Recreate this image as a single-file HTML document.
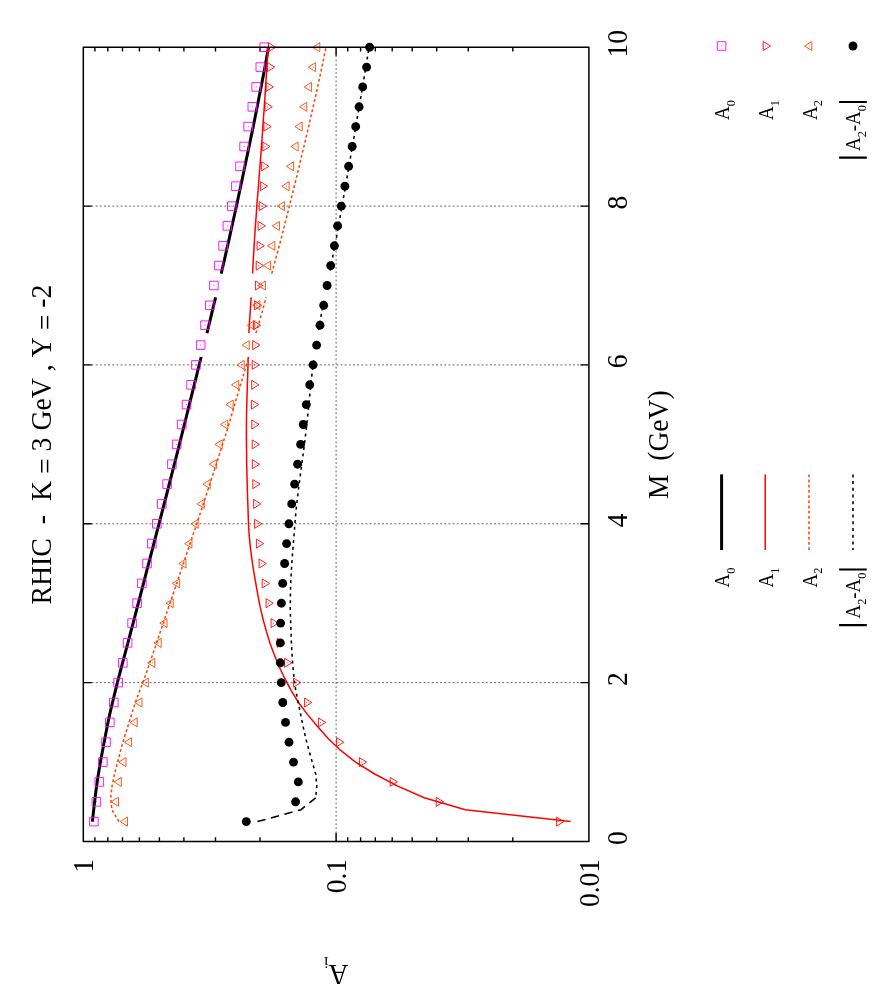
<!DOCTYPE html>
<html><head><meta charset="utf-8"><title>plot</title>
<style>
html,body{margin:0;padding:0;background:#fff;}
body{width:875px;height:1000px;overflow:hidden;}
svg{display:block;will-change:transform;}
text{font-family:"Liberation Serif",serif;fill:#000;white-space:pre;font-kerning:none;}
</style></head><body>
<svg width="875" height="1000" viewBox="0 0 875 1000">
<rect width="875" height="1000" fill="#fff"/>
<path d="M83.3,682.6 H588.9 M83.3,523.8 H588.9 M83.3,364.9 H588.9 M83.3,206.1 H588.9 M336.1,47.2 V841.5" stroke="#1a1a1a" stroke-width="0.7" stroke-dasharray="1.8,2.35" fill="none"/>
<path d="M83.3,682.6 h8.5 M588.9,682.6 h-8.5 M83.3,523.8 h8.5 M588.9,523.8 h-8.5 M83.3,364.9 h8.5 M588.9,364.9 h-8.5 M83.3,206.1 h8.5 M588.9,206.1 h-8.5 M260.0,841.5 v-4.2 M260.0,47.2 v4.2 M215.5,841.5 v-4.2 M215.5,47.2 v4.2 M183.9,841.5 v-4.2 M183.9,47.2 v4.2 M159.4,841.5 v-4.2 M159.4,47.2 v4.2 M139.4,841.5 v-4.2 M139.4,47.2 v4.2 M122.5,841.5 v-4.2 M122.5,47.2 v4.2 M107.8,841.5 v-4.2 M107.8,47.2 v4.2 M94.9,841.5 v-4.2 M94.9,47.2 v4.2 M512.8,841.5 v-4.2 M512.8,47.2 v4.2 M468.3,841.5 v-4.2 M468.3,47.2 v4.2 M436.7,841.5 v-4.2 M436.7,47.2 v4.2 M412.2,841.5 v-4.2 M412.2,47.2 v4.2 M392.2,841.5 v-4.2 M392.2,47.2 v4.2 M375.3,841.5 v-4.2 M375.3,47.2 v4.2 M360.6,841.5 v-4.2 M360.6,47.2 v4.2 M347.7,841.5 v-4.2 M347.7,47.2 v4.2 M336.1,841.5 v-8.5 M336.1,47.2 v8.5" stroke="#000" stroke-width="1.4" fill="none"/>
<path d="M92.4,821.6 L93.7,809.7 L95.1,797.8 L96.6,785.9 L98.4,774.0 L100.4,762.1 L102.6,750.2 L104.9,738.2 L107.2,726.3 L109.7,714.4 L112.5,702.5 L115.4,690.6 L118.4,678.7 L121.5,666.8 L124.7,654.8 L127.9,642.9 L131.0,631.0 L134.2,619.1 L137.3,607.2 L140.4,595.3 L143.5,583.4 L146.6,571.4 L149.7,559.5 L152.8,547.6 L155.9,535.7 L159.0,523.8 L162.1,511.9 L165.2,500.0 L168.3,488.0 L171.3,476.1 L174.4,464.2 L177.4,452.3 L180.4,440.4 L183.4,428.5 L186.4,416.5 L189.3,404.6 L192.3,392.7 L195.3,380.8 L198.2,368.9 L201.2,357.0 M207.0,333.1 L209.9,321.2 L212.7,309.3 L215.6,297.4 M221.2,273.6 L224.0,261.7 L226.7,249.7 L229.4,237.8 L232.0,225.9 L234.7,214.0 L237.3,202.1 L239.8,190.2 L242.4,178.3 L244.9,166.3 L247.4,154.4 L249.9,142.5 L252.4,130.6 L254.8,118.7 L257.2,106.8 L259.5,94.9 L261.9,82.9 L264.2,71.0 L266.4,59.1 L268.5,47.2" stroke="#000" stroke-width="3.0" fill="none"/>
<path d="M570.6,821.6 L465.4,809.7 L424.3,797.8 L397.2,785.9 L374.7,774.0 L355.5,762.1 L340.4,750.2 L327.9,738.2 L317.3,726.3 L307.4,714.4 L298.5,702.5 L291.2,690.6 L284.9,678.7 L279.2,666.8 L274.3,654.8 L269.9,642.9 L266.3,631.0 L263.0,619.1 L260.2,607.2 L257.9,595.3 L255.8,583.4 L253.7,571.4 L251.9,559.5 L250.4,547.6 L249.2,535.7 L248.5,523.8 L248.1,511.9 L247.7,500.0 L247.3,488.0 L247.0,476.1 L246.7,464.2 L246.6,452.3 L246.4,440.4 L246.4,428.5 L246.5,416.5 L246.8,404.6 L247.1,392.7 L247.5,380.8 L247.9,368.9 L248.3,357.0 M248.9,333.1 L249.5,321.2 L250.4,309.3 L251.2,297.4 M252.6,273.6 L253.2,261.7 L253.9,249.7 L254.6,237.8 L255.4,225.9 L256.3,214.0 L257.1,202.1 L258.1,190.2 L259.0,178.3 L259.9,166.3 L260.9,154.4 L261.8,142.5 L262.6,130.6 L263.4,118.7 L264.3,106.8 L265.1,94.9 L265.8,82.9 L266.6,71.0 L267.4,59.1 L268.1,47.2" stroke="#ff0000" stroke-width="1.5" fill="none"/>
<path d="M119.0,821.6 L111.9,809.7 L110.6,797.8 L112.1,785.9 L114.5,774.0 L117.7,762.1 L120.7,750.2 L124.1,738.2 L127.9,726.3 L131.6,714.4 L135.3,702.5 L139.8,690.6 L144.3,678.7 L148.5,666.8 L152.6,654.8 L156.6,642.9 L160.6,631.0 L164.6,619.1 L168.6,607.2 L172.6,595.3 L176.7,583.4 L180.7,571.4 L184.7,559.5 L188.7,547.6 L192.7,535.7 L196.7,523.8 L200.7,511.9 L204.6,500.0 L208.5,488.0 L212.4,476.1 L216.3,464.2 L220.1,452.3 L223.8,440.4 L227.6,428.5 L231.2,416.5 L234.7,404.6 L238.2,392.7 L241.7,380.8 L245.2,368.9 L248.8,357.0 M256.0,333.1 L259.5,321.2 L262.9,309.3 L266.1,297.4 M271.8,273.6 L274.9,261.7 L278.2,249.7 L281.4,237.8 L284.4,225.9 L287.4,214.0 L290.4,202.1 L293.3,190.2 L296.3,178.3 L299.2,166.3 L302.0,154.4 L304.9,142.5 L307.7,130.6 L310.4,118.7 L313.2,106.8 L315.9,94.9 L318.5,82.9 L321.1,71.0 L323.6,59.1 L326.1,47.2" stroke="#ff4500" stroke-width="1.55" stroke-dasharray="2.8,2.4" fill="none"/>
<path d="M257.4,821.6 L301.0,809.7 L315.7,797.8" stroke="#000" stroke-width="1.55" stroke-dasharray="8.4,5.6" fill="none"/>
<path d="M315.7,797.8 L316.8,785.9 L315.7,774.0 L312.2,762.1 L308.9,750.2 L305.7,738.2 L303.1,726.3 L300.6,714.4 L298.2,702.5 L295.8,690.6 L294.1,678.7 L292.9,666.8 L292.1,654.8 L291.4,642.9 L291.0,631.0 L290.5,619.1 L290.3,607.2 L290.4,595.3 L290.7,583.4 L291.3,571.4 L292.1,559.5 L293.0,547.6 L294.0,535.7 L294.9,523.8 L295.9,511.9 L297.2,500.0 L298.6,488.0 L300.2,476.1 L301.8,464.2 L303.4,452.3 L304.9,440.4 L306.3,428.5 L307.6,416.5 L308.8,404.6 L310.0,392.7 L311.2,380.8 L312.6,368.9 L314.2,357.0 M318.0,333.1 L320.1,321.2 L322.3,309.3 L324.7,297.4 M329.4,273.6 L331.8,261.7 L334.1,249.7 L336.4,237.8 L338.5,225.9 L340.6,214.0 L342.7,202.1 L344.8,190.2 L346.9,178.3 L348.9,166.3 L351.0,154.4 L353.1,142.5 L355.1,130.6 L357.1,118.7 L359.2,106.8 L361.2,94.9 L363.2,82.9 L365.2,71.0 L367.1,59.1 L369.1,47.2" stroke="#000" stroke-width="1.55" stroke-dasharray="3,3.7" stroke-dashoffset="-3" fill="none"/>
<rect x="89.6" y="817.3" width="8.6" height="8.6" fill="none" stroke="#ff00ff" stroke-width="0.9" stroke-linejoin="round"/><rect x="93.4" y="821.1" width="1" height="1" fill="#ff00ff" opacity="0.8"/>
<rect x="92.1" y="797.5" width="8.6" height="8.6" fill="none" stroke="#ff00ff" stroke-width="0.9" stroke-linejoin="round"/><rect x="95.9" y="801.3" width="1" height="1" fill="#ff00ff" opacity="0.8"/>
<rect x="95.0" y="777.6" width="8.6" height="8.6" fill="none" stroke="#ff00ff" stroke-width="0.9" stroke-linejoin="round"/><rect x="98.8" y="781.4" width="1" height="1" fill="#ff00ff" opacity="0.8"/>
<rect x="98.5" y="757.8" width="8.6" height="8.6" fill="none" stroke="#ff00ff" stroke-width="0.9" stroke-linejoin="round"/><rect x="102.3" y="761.6" width="1" height="1" fill="#ff00ff" opacity="0.8"/>
<rect x="101.7" y="737.9" width="8.6" height="8.6" fill="none" stroke="#ff00ff" stroke-width="0.9" stroke-linejoin="round"/><rect x="105.5" y="741.7" width="1" height="1" fill="#ff00ff" opacity="0.8"/>
<rect x="105.5" y="718.1" width="8.6" height="8.6" fill="none" stroke="#ff00ff" stroke-width="0.9" stroke-linejoin="round"/><rect x="109.3" y="721.9" width="1" height="1" fill="#ff00ff" opacity="0.8"/>
<rect x="109.5" y="698.2" width="8.6" height="8.6" fill="none" stroke="#ff00ff" stroke-width="0.9" stroke-linejoin="round"/><rect x="113.3" y="702.0" width="1" height="1" fill="#ff00ff" opacity="0.8"/>
<rect x="113.9" y="678.3" width="8.6" height="8.6" fill="none" stroke="#ff00ff" stroke-width="0.9" stroke-linejoin="round"/><rect x="117.7" y="682.1" width="1" height="1" fill="#ff00ff" opacity="0.8"/>
<rect x="118.5" y="658.5" width="8.6" height="8.6" fill="none" stroke="#ff00ff" stroke-width="0.9" stroke-linejoin="round"/><rect x="122.3" y="662.3" width="1" height="1" fill="#ff00ff" opacity="0.8"/>
<rect x="123.3" y="638.6" width="8.6" height="8.6" fill="none" stroke="#ff00ff" stroke-width="0.9" stroke-linejoin="round"/><rect x="127.1" y="642.4" width="1" height="1" fill="#ff00ff" opacity="0.8"/>
<rect x="127.8" y="618.8" width="8.6" height="8.6" fill="none" stroke="#ff00ff" stroke-width="0.9" stroke-linejoin="round"/><rect x="131.6" y="622.6" width="1" height="1" fill="#ff00ff" opacity="0.8"/>
<rect x="132.8" y="598.9" width="8.6" height="8.6" fill="none" stroke="#ff00ff" stroke-width="0.9" stroke-linejoin="round"/><rect x="136.6" y="602.7" width="1" height="1" fill="#ff00ff" opacity="0.8"/>
<rect x="137.6" y="579.1" width="8.6" height="8.6" fill="none" stroke="#ff00ff" stroke-width="0.9" stroke-linejoin="round"/><rect x="141.4" y="582.9" width="1" height="1" fill="#ff00ff" opacity="0.8"/>
<rect x="142.7" y="559.2" width="8.6" height="8.6" fill="none" stroke="#ff00ff" stroke-width="0.9" stroke-linejoin="round"/><rect x="146.5" y="563.0" width="1" height="1" fill="#ff00ff" opacity="0.8"/>
<rect x="147.5" y="539.3" width="8.6" height="8.6" fill="none" stroke="#ff00ff" stroke-width="0.9" stroke-linejoin="round"/><rect x="151.3" y="543.1" width="1" height="1" fill="#ff00ff" opacity="0.8"/>
<rect x="152.5" y="519.5" width="8.6" height="8.6" fill="none" stroke="#ff00ff" stroke-width="0.9" stroke-linejoin="round"/><rect x="156.3" y="523.3" width="1" height="1" fill="#ff00ff" opacity="0.8"/>
<rect x="157.5" y="499.6" width="8.6" height="8.6" fill="none" stroke="#ff00ff" stroke-width="0.9" stroke-linejoin="round"/><rect x="161.3" y="503.4" width="1" height="1" fill="#ff00ff" opacity="0.8"/>
<rect x="162.8" y="479.8" width="8.6" height="8.6" fill="none" stroke="#ff00ff" stroke-width="0.9" stroke-linejoin="round"/><rect x="166.6" y="483.6" width="1" height="1" fill="#ff00ff" opacity="0.8"/>
<rect x="167.6" y="459.9" width="8.6" height="8.6" fill="none" stroke="#ff00ff" stroke-width="0.9" stroke-linejoin="round"/><rect x="171.4" y="463.7" width="1" height="1" fill="#ff00ff" opacity="0.8"/>
<rect x="172.4" y="440.1" width="8.6" height="8.6" fill="none" stroke="#ff00ff" stroke-width="0.9" stroke-linejoin="round"/><rect x="176.2" y="443.9" width="1" height="1" fill="#ff00ff" opacity="0.8"/>
<rect x="177.4" y="420.2" width="8.6" height="8.6" fill="none" stroke="#ff00ff" stroke-width="0.9" stroke-linejoin="round"/><rect x="181.2" y="424.0" width="1" height="1" fill="#ff00ff" opacity="0.8"/>
<rect x="182.2" y="400.3" width="8.6" height="8.6" fill="none" stroke="#ff00ff" stroke-width="0.9" stroke-linejoin="round"/><rect x="186.0" y="404.1" width="1" height="1" fill="#ff00ff" opacity="0.8"/>
<rect x="186.8" y="380.5" width="8.6" height="8.6" fill="none" stroke="#ff00ff" stroke-width="0.9" stroke-linejoin="round"/><rect x="190.6" y="384.3" width="1" height="1" fill="#ff00ff" opacity="0.8"/>
<rect x="191.6" y="360.6" width="8.6" height="8.6" fill="none" stroke="#ff00ff" stroke-width="0.9" stroke-linejoin="round"/><rect x="195.4" y="364.4" width="1" height="1" fill="#ff00ff" opacity="0.8"/>
<rect x="196.4" y="340.8" width="8.6" height="8.6" fill="none" stroke="#ff00ff" stroke-width="0.9" stroke-linejoin="round"/><rect x="200.2" y="344.6" width="1" height="1" fill="#ff00ff" opacity="0.8"/>
<rect x="200.7" y="320.9" width="8.6" height="8.6" fill="none" stroke="#ff00ff" stroke-width="0.9" stroke-linejoin="round"/><rect x="204.5" y="324.7" width="1" height="1" fill="#ff00ff" opacity="0.8"/>
<rect x="205.5" y="301.0" width="8.6" height="8.6" fill="none" stroke="#ff00ff" stroke-width="0.9" stroke-linejoin="round"/><rect x="209.3" y="304.8" width="1" height="1" fill="#ff00ff" opacity="0.8"/>
<rect x="209.6" y="281.2" width="8.6" height="8.6" fill="none" stroke="#ff00ff" stroke-width="0.9" stroke-linejoin="round"/><rect x="213.4" y="285.0" width="1" height="1" fill="#ff00ff" opacity="0.8"/>
<rect x="214.4" y="261.3" width="8.6" height="8.6" fill="none" stroke="#ff00ff" stroke-width="0.9" stroke-linejoin="round"/><rect x="218.2" y="265.1" width="1" height="1" fill="#ff00ff" opacity="0.8"/>
<rect x="218.8" y="241.5" width="8.6" height="8.6" fill="none" stroke="#ff00ff" stroke-width="0.9" stroke-linejoin="round"/><rect x="222.6" y="245.3" width="1" height="1" fill="#ff00ff" opacity="0.8"/>
<rect x="223.1" y="221.6" width="8.6" height="8.6" fill="none" stroke="#ff00ff" stroke-width="0.9" stroke-linejoin="round"/><rect x="226.9" y="225.4" width="1" height="1" fill="#ff00ff" opacity="0.8"/>
<rect x="227.5" y="201.8" width="8.6" height="8.6" fill="none" stroke="#ff00ff" stroke-width="0.9" stroke-linejoin="round"/><rect x="231.3" y="205.6" width="1" height="1" fill="#ff00ff" opacity="0.8"/>
<rect x="231.6" y="181.9" width="8.6" height="8.6" fill="none" stroke="#ff00ff" stroke-width="0.9" stroke-linejoin="round"/><rect x="235.4" y="185.7" width="1" height="1" fill="#ff00ff" opacity="0.8"/>
<rect x="235.7" y="162.0" width="8.6" height="8.6" fill="none" stroke="#ff00ff" stroke-width="0.9" stroke-linejoin="round"/><rect x="239.5" y="165.8" width="1" height="1" fill="#ff00ff" opacity="0.8"/>
<rect x="239.8" y="142.2" width="8.6" height="8.6" fill="none" stroke="#ff00ff" stroke-width="0.9" stroke-linejoin="round"/><rect x="243.6" y="146.0" width="1" height="1" fill="#ff00ff" opacity="0.8"/>
<rect x="243.9" y="122.3" width="8.6" height="8.6" fill="none" stroke="#ff00ff" stroke-width="0.9" stroke-linejoin="round"/><rect x="247.7" y="126.1" width="1" height="1" fill="#ff00ff" opacity="0.8"/>
<rect x="248.0" y="102.5" width="8.6" height="8.6" fill="none" stroke="#ff00ff" stroke-width="0.9" stroke-linejoin="round"/><rect x="251.8" y="106.3" width="1" height="1" fill="#ff00ff" opacity="0.8"/>
<rect x="251.9" y="82.6" width="8.6" height="8.6" fill="none" stroke="#ff00ff" stroke-width="0.9" stroke-linejoin="round"/><rect x="255.7" y="86.4" width="1" height="1" fill="#ff00ff" opacity="0.8"/>
<rect x="256.0" y="62.8" width="8.6" height="8.6" fill="none" stroke="#ff00ff" stroke-width="0.9" stroke-linejoin="round"/><rect x="259.8" y="66.6" width="1" height="1" fill="#ff00ff" opacity="0.8"/>
<rect x="259.9" y="42.9" width="8.6" height="8.6" fill="none" stroke="#ff00ff" stroke-width="0.9" stroke-linejoin="round"/><rect x="263.7" y="46.7" width="1" height="1" fill="#ff00ff" opacity="0.8"/>
<path d="M563.9,821.6 L556.6,817.1 L556.6,826.1 Z" fill="none" stroke="#ff0000" stroke-width="0.9" stroke-linejoin="round"/><rect x="558.4" y="821.1" width="1" height="1" fill="#ff0000" opacity="0.7"/>
<path d="M443.5,801.8 L436.2,797.3 L436.2,806.3 Z" fill="none" stroke="#ff0000" stroke-width="0.9" stroke-linejoin="round"/><rect x="438.0" y="801.3" width="1" height="1" fill="#ff0000" opacity="0.7"/>
<path d="M397.5,781.9 L390.2,777.4 L390.2,786.4 Z" fill="none" stroke="#ff0000" stroke-width="0.9" stroke-linejoin="round"/><rect x="392.0" y="781.4" width="1" height="1" fill="#ff0000" opacity="0.7"/>
<path d="M366.7,762.1 L359.4,757.6 L359.4,766.6 Z" fill="none" stroke="#ff0000" stroke-width="0.9" stroke-linejoin="round"/><rect x="361.2" y="761.6" width="1" height="1" fill="#ff0000" opacity="0.7"/>
<path d="M343.8,742.2 L336.6,737.7 L336.6,746.7 Z" fill="none" stroke="#ff0000" stroke-width="0.9" stroke-linejoin="round"/><rect x="338.3" y="741.7" width="1" height="1" fill="#ff0000" opacity="0.7"/>
<path d="M325.7,722.4 L318.4,717.9 L318.4,726.9 Z" fill="none" stroke="#ff0000" stroke-width="0.9" stroke-linejoin="round"/><rect x="320.2" y="721.9" width="1" height="1" fill="#ff0000" opacity="0.7"/>
<path d="M311.8,702.5 L304.6,698.0 L304.6,707.0 Z" fill="none" stroke="#ff0000" stroke-width="0.9" stroke-linejoin="round"/><rect x="306.3" y="702.0" width="1" height="1" fill="#ff0000" opacity="0.7"/>
<path d="M300.8,682.6 L293.6,678.1 L293.6,687.1 Z" fill="none" stroke="#ff0000" stroke-width="0.9" stroke-linejoin="round"/><rect x="295.3" y="682.1" width="1" height="1" fill="#ff0000" opacity="0.7"/>
<path d="M291.9,662.8 L284.6,658.3 L284.6,667.3 Z" fill="none" stroke="#ff0000" stroke-width="0.9" stroke-linejoin="round"/><rect x="286.4" y="662.3" width="1" height="1" fill="#ff0000" opacity="0.7"/>
<path d="M284.5,642.9 L277.2,638.4 L277.2,647.4 Z" fill="none" stroke="#ff0000" stroke-width="0.9" stroke-linejoin="round"/><rect x="279.0" y="642.4" width="1" height="1" fill="#ff0000" opacity="0.7"/>
<path d="M278.3,623.1 L271.1,618.6 L271.1,627.6 Z" fill="none" stroke="#ff0000" stroke-width="0.9" stroke-linejoin="round"/><rect x="272.8" y="622.6" width="1" height="1" fill="#ff0000" opacity="0.7"/>
<path d="M273.3,603.2 L266.1,598.7 L266.1,607.7 Z" fill="none" stroke="#ff0000" stroke-width="0.9" stroke-linejoin="round"/><rect x="267.8" y="602.7" width="1" height="1" fill="#ff0000" opacity="0.7"/>
<path d="M269.5,583.4 L262.2,578.9 L262.2,587.9 Z" fill="none" stroke="#ff0000" stroke-width="0.9" stroke-linejoin="round"/><rect x="264.0" y="582.9" width="1" height="1" fill="#ff0000" opacity="0.7"/>
<path d="M266.3,563.5 L259.1,559.0 L259.1,568.0 Z" fill="none" stroke="#ff0000" stroke-width="0.9" stroke-linejoin="round"/><rect x="260.8" y="563.0" width="1" height="1" fill="#ff0000" opacity="0.7"/>
<path d="M263.7,543.6 L256.4,539.1 L256.4,548.1 Z" fill="none" stroke="#ff0000" stroke-width="0.9" stroke-linejoin="round"/><rect x="258.2" y="543.1" width="1" height="1" fill="#ff0000" opacity="0.7"/>
<path d="M261.9,523.8 L254.6,519.3 L254.6,528.3 Z" fill="none" stroke="#ff0000" stroke-width="0.9" stroke-linejoin="round"/><rect x="256.4" y="523.3" width="1" height="1" fill="#ff0000" opacity="0.7"/>
<path d="M260.8,503.9 L253.6,499.4 L253.6,508.4 Z" fill="none" stroke="#ff0000" stroke-width="0.9" stroke-linejoin="round"/><rect x="255.3" y="503.4" width="1" height="1" fill="#ff0000" opacity="0.7"/>
<path d="M260.1,484.1 L252.8,479.6 L252.8,488.6 Z" fill="none" stroke="#ff0000" stroke-width="0.9" stroke-linejoin="round"/><rect x="254.6" y="483.6" width="1" height="1" fill="#ff0000" opacity="0.7"/>
<path d="M259.6,464.2 L252.3,459.7 L252.3,468.7 Z" fill="none" stroke="#ff0000" stroke-width="0.9" stroke-linejoin="round"/><rect x="254.1" y="463.7" width="1" height="1" fill="#ff0000" opacity="0.7"/>
<path d="M259.4,444.4 L252.2,439.9 L252.2,448.9 Z" fill="none" stroke="#ff0000" stroke-width="0.9" stroke-linejoin="round"/><rect x="253.9" y="443.9" width="1" height="1" fill="#ff0000" opacity="0.7"/>
<path d="M259.0,424.5 L251.8,420.0 L251.8,429.0 Z" fill="none" stroke="#ff0000" stroke-width="0.9" stroke-linejoin="round"/><rect x="253.5" y="424.0" width="1" height="1" fill="#ff0000" opacity="0.7"/>
<path d="M258.7,404.6 L251.4,400.1 L251.4,409.1 Z" fill="none" stroke="#ff0000" stroke-width="0.9" stroke-linejoin="round"/><rect x="253.2" y="404.1" width="1" height="1" fill="#ff0000" opacity="0.7"/>
<path d="M258.9,384.8 L251.7,380.3 L251.7,389.3 Z" fill="none" stroke="#ff0000" stroke-width="0.9" stroke-linejoin="round"/><rect x="253.4" y="384.3" width="1" height="1" fill="#ff0000" opacity="0.7"/>
<path d="M259.4,364.9 L252.2,360.4 L252.2,369.4 Z" fill="none" stroke="#ff0000" stroke-width="0.9" stroke-linejoin="round"/><rect x="253.9" y="364.4" width="1" height="1" fill="#ff0000" opacity="0.7"/>
<path d="M259.9,345.1 L252.7,340.6 L252.7,349.6 Z" fill="none" stroke="#ff0000" stroke-width="0.9" stroke-linejoin="round"/><rect x="254.4" y="344.6" width="1" height="1" fill="#ff0000" opacity="0.7"/>
<path d="M260.7,325.2 L253.4,320.7 L253.4,329.7 Z" fill="none" stroke="#ff0000" stroke-width="0.9" stroke-linejoin="round"/><rect x="255.2" y="324.7" width="1" height="1" fill="#ff0000" opacity="0.7"/>
<path d="M261.6,305.3 L254.4,300.8 L254.4,309.8 Z" fill="none" stroke="#ff0000" stroke-width="0.9" stroke-linejoin="round"/><rect x="256.1" y="304.8" width="1" height="1" fill="#ff0000" opacity="0.7"/>
<path d="M262.6,285.5 L255.4,281.0 L255.4,290.0 Z" fill="none" stroke="#ff0000" stroke-width="0.9" stroke-linejoin="round"/><rect x="257.1" y="285.0" width="1" height="1" fill="#ff0000" opacity="0.7"/>
<path d="M263.5,265.6 L256.2,261.1 L256.2,270.1 Z" fill="none" stroke="#ff0000" stroke-width="0.9" stroke-linejoin="round"/><rect x="258.0" y="265.1" width="1" height="1" fill="#ff0000" opacity="0.7"/>
<path d="M264.4,245.8 L257.1,241.3 L257.1,250.3 Z" fill="none" stroke="#ff0000" stroke-width="0.9" stroke-linejoin="round"/><rect x="258.9" y="245.3" width="1" height="1" fill="#ff0000" opacity="0.7"/>
<path d="M265.4,225.9 L258.1,221.4 L258.1,230.4 Z" fill="none" stroke="#ff0000" stroke-width="0.9" stroke-linejoin="round"/><rect x="259.9" y="225.4" width="1" height="1" fill="#ff0000" opacity="0.7"/>
<path d="M266.5,206.1 L259.2,201.6 L259.2,210.6 Z" fill="none" stroke="#ff0000" stroke-width="0.9" stroke-linejoin="round"/><rect x="261.0" y="205.6" width="1" height="1" fill="#ff0000" opacity="0.7"/>
<path d="M267.6,186.2 L260.4,181.7 L260.4,190.7 Z" fill="none" stroke="#ff0000" stroke-width="0.9" stroke-linejoin="round"/><rect x="262.1" y="185.7" width="1" height="1" fill="#ff0000" opacity="0.7"/>
<path d="M268.8,166.3 L261.6,161.8 L261.6,170.8 Z" fill="none" stroke="#ff0000" stroke-width="0.9" stroke-linejoin="round"/><rect x="263.3" y="165.8" width="1" height="1" fill="#ff0000" opacity="0.7"/>
<path d="M270.0,146.5 L262.8,142.0 L262.8,151.0 Z" fill="none" stroke="#ff0000" stroke-width="0.9" stroke-linejoin="round"/><rect x="264.5" y="146.0" width="1" height="1" fill="#ff0000" opacity="0.7"/>
<path d="M271.2,126.6 L263.9,122.1 L263.9,131.1 Z" fill="none" stroke="#ff0000" stroke-width="0.9" stroke-linejoin="round"/><rect x="265.7" y="126.1" width="1" height="1" fill="#ff0000" opacity="0.7"/>
<path d="M272.3,106.8 L265.1,102.3 L265.1,111.3 Z" fill="none" stroke="#ff0000" stroke-width="0.9" stroke-linejoin="round"/><rect x="266.8" y="106.3" width="1" height="1" fill="#ff0000" opacity="0.7"/>
<path d="M273.4,86.9 L266.1,82.4 L266.1,91.4 Z" fill="none" stroke="#ff0000" stroke-width="0.9" stroke-linejoin="round"/><rect x="267.9" y="86.4" width="1" height="1" fill="#ff0000" opacity="0.7"/>
<path d="M274.6,67.1 L267.4,62.6 L267.4,71.6 Z" fill="none" stroke="#ff0000" stroke-width="0.9" stroke-linejoin="round"/><rect x="269.1" y="66.6" width="1" height="1" fill="#ff0000" opacity="0.7"/>
<path d="M275.7,47.2 L268.4,42.7 L268.4,51.7 Z" fill="none" stroke="#ff0000" stroke-width="0.9" stroke-linejoin="round"/><rect x="270.2" y="46.7" width="1" height="1" fill="#ff0000" opacity="0.7"/>
<path d="M120.2,821.6 L127.5,817.1 L127.5,826.1 Z" fill="none" stroke="#ff4500" stroke-width="0.9" stroke-linejoin="round"/><rect x="124.7" y="821.1" width="1" height="1" fill="#ff4500" opacity="0.7"/>
<path d="M111.2,801.8 L118.5,797.3 L118.5,806.3 Z" fill="none" stroke="#ff4500" stroke-width="0.9" stroke-linejoin="round"/><rect x="115.7" y="801.3" width="1" height="1" fill="#ff4500" opacity="0.7"/>
<path d="M114.1,781.9 L121.3,777.4 L121.3,786.4 Z" fill="none" stroke="#ff4500" stroke-width="0.9" stroke-linejoin="round"/><rect x="118.6" y="781.4" width="1" height="1" fill="#ff4500" opacity="0.7"/>
<path d="M118.8,762.1 L126.0,757.6 L126.0,766.6 Z" fill="none" stroke="#ff4500" stroke-width="0.9" stroke-linejoin="round"/><rect x="123.3" y="761.6" width="1" height="1" fill="#ff4500" opacity="0.7"/>
<path d="M124.3,742.2 L131.6,737.7 L131.6,746.7 Z" fill="none" stroke="#ff4500" stroke-width="0.9" stroke-linejoin="round"/><rect x="128.8" y="741.7" width="1" height="1" fill="#ff4500" opacity="0.7"/>
<path d="M130.0,722.4 L137.2,717.9 L137.2,726.9 Z" fill="none" stroke="#ff4500" stroke-width="0.9" stroke-linejoin="round"/><rect x="134.5" y="721.9" width="1" height="1" fill="#ff4500" opacity="0.7"/>
<path d="M134.8,702.5 L142.0,698.0 L142.0,707.0 Z" fill="none" stroke="#ff4500" stroke-width="0.9" stroke-linejoin="round"/><rect x="139.3" y="702.0" width="1" height="1" fill="#ff4500" opacity="0.7"/>
<path d="M141.1,682.6 L148.3,678.1 L148.3,687.1 Z" fill="none" stroke="#ff4500" stroke-width="0.9" stroke-linejoin="round"/><rect x="145.6" y="682.1" width="1" height="1" fill="#ff4500" opacity="0.7"/>
<path d="M147.5,662.8 L154.8,658.3 L154.8,667.3 Z" fill="none" stroke="#ff4500" stroke-width="0.9" stroke-linejoin="round"/><rect x="152.0" y="662.3" width="1" height="1" fill="#ff4500" opacity="0.7"/>
<path d="M153.9,642.9 L161.2,638.4 L161.2,647.4 Z" fill="none" stroke="#ff4500" stroke-width="0.9" stroke-linejoin="round"/><rect x="158.4" y="642.4" width="1" height="1" fill="#ff4500" opacity="0.7"/>
<path d="M159.8,623.1 L167.0,618.6 L167.0,627.6 Z" fill="none" stroke="#ff4500" stroke-width="0.9" stroke-linejoin="round"/><rect x="164.3" y="622.6" width="1" height="1" fill="#ff4500" opacity="0.7"/>
<path d="M166.0,603.2 L173.2,598.7 L173.2,607.7 Z" fill="none" stroke="#ff4500" stroke-width="0.9" stroke-linejoin="round"/><rect x="170.5" y="602.7" width="1" height="1" fill="#ff4500" opacity="0.7"/>
<path d="M172.4,583.4 L179.7,578.9 L179.7,587.9 Z" fill="none" stroke="#ff4500" stroke-width="0.9" stroke-linejoin="round"/><rect x="176.9" y="582.9" width="1" height="1" fill="#ff4500" opacity="0.7"/>
<path d="M178.8,563.5 L186.0,559.0 L186.0,568.0 Z" fill="none" stroke="#ff4500" stroke-width="0.9" stroke-linejoin="round"/><rect x="183.3" y="563.0" width="1" height="1" fill="#ff4500" opacity="0.7"/>
<path d="M184.7,543.6 L191.9,539.1 L191.9,548.1 Z" fill="none" stroke="#ff4500" stroke-width="0.9" stroke-linejoin="round"/><rect x="189.2" y="543.1" width="1" height="1" fill="#ff4500" opacity="0.7"/>
<path d="M190.9,523.8 L198.2,519.3 L198.2,528.3 Z" fill="none" stroke="#ff4500" stroke-width="0.9" stroke-linejoin="round"/><rect x="195.4" y="523.3" width="1" height="1" fill="#ff4500" opacity="0.7"/>
<path d="M197.1,503.9 L204.3,499.4 L204.3,508.4 Z" fill="none" stroke="#ff4500" stroke-width="0.9" stroke-linejoin="round"/><rect x="201.6" y="503.4" width="1" height="1" fill="#ff4500" opacity="0.7"/>
<path d="M203.0,484.1 L210.2,479.6 L210.2,488.6 Z" fill="none" stroke="#ff4500" stroke-width="0.9" stroke-linejoin="round"/><rect x="207.5" y="483.6" width="1" height="1" fill="#ff4500" opacity="0.7"/>
<path d="M209.2,464.2 L216.4,459.7 L216.4,468.7 Z" fill="none" stroke="#ff4500" stroke-width="0.9" stroke-linejoin="round"/><rect x="213.7" y="463.7" width="1" height="1" fill="#ff4500" opacity="0.7"/>
<path d="M214.9,444.4 L222.2,439.9 L222.2,448.9 Z" fill="none" stroke="#ff4500" stroke-width="0.9" stroke-linejoin="round"/><rect x="219.4" y="443.9" width="1" height="1" fill="#ff4500" opacity="0.7"/>
<path d="M220.5,424.5 L227.8,420.0 L227.8,429.0 Z" fill="none" stroke="#ff4500" stroke-width="0.9" stroke-linejoin="round"/><rect x="225.0" y="424.0" width="1" height="1" fill="#ff4500" opacity="0.7"/>
<path d="M225.9,404.6 L233.2,400.1 L233.2,409.1 Z" fill="none" stroke="#ff4500" stroke-width="0.9" stroke-linejoin="round"/><rect x="230.4" y="404.1" width="1" height="1" fill="#ff4500" opacity="0.7"/>
<path d="M231.5,384.8 L238.8,380.3 L238.8,389.3 Z" fill="none" stroke="#ff4500" stroke-width="0.9" stroke-linejoin="round"/><rect x="236.0" y="384.3" width="1" height="1" fill="#ff4500" opacity="0.7"/>
<path d="M237.0,364.9 L244.2,360.4 L244.2,369.4 Z" fill="none" stroke="#ff4500" stroke-width="0.9" stroke-linejoin="round"/><rect x="241.5" y="364.4" width="1" height="1" fill="#ff4500" opacity="0.7"/>
<path d="M242.1,345.1 L249.3,340.6 L249.3,349.6 Z" fill="none" stroke="#ff4500" stroke-width="0.9" stroke-linejoin="round"/><rect x="246.6" y="344.6" width="1" height="1" fill="#ff4500" opacity="0.7"/>
<path d="M247.3,325.2 L254.6,320.7 L254.6,329.7 Z" fill="none" stroke="#ff4500" stroke-width="0.9" stroke-linejoin="round"/><rect x="251.8" y="324.7" width="1" height="1" fill="#ff4500" opacity="0.7"/>
<path d="M252.6,305.3 L259.9,300.8 L259.9,309.8 Z" fill="none" stroke="#ff4500" stroke-width="0.9" stroke-linejoin="round"/><rect x="257.1" y="304.8" width="1" height="1" fill="#ff4500" opacity="0.7"/>
<path d="M258.1,285.5 L265.4,281.0 L265.4,290.0 Z" fill="none" stroke="#ff4500" stroke-width="0.9" stroke-linejoin="round"/><rect x="262.6" y="285.0" width="1" height="1" fill="#ff4500" opacity="0.7"/>
<path d="M263.3,265.6 L270.6,261.1 L270.6,270.1 Z" fill="none" stroke="#ff4500" stroke-width="0.9" stroke-linejoin="round"/><rect x="267.8" y="265.1" width="1" height="1" fill="#ff4500" opacity="0.7"/>
<path d="M267.5,245.8 L274.8,241.3 L274.8,250.3 Z" fill="none" stroke="#ff4500" stroke-width="0.9" stroke-linejoin="round"/><rect x="272.0" y="245.3" width="1" height="1" fill="#ff4500" opacity="0.7"/>
<path d="M272.2,225.9 L279.4,221.4 L279.4,230.4 Z" fill="none" stroke="#ff4500" stroke-width="0.9" stroke-linejoin="round"/><rect x="276.7" y="225.4" width="1" height="1" fill="#ff4500" opacity="0.7"/>
<path d="M277.2,206.1 L284.4,201.6 L284.4,210.6 Z" fill="none" stroke="#ff4500" stroke-width="0.9" stroke-linejoin="round"/><rect x="281.7" y="205.6" width="1" height="1" fill="#ff4500" opacity="0.7"/>
<path d="M281.8,186.2 L289.1,181.7 L289.1,190.7 Z" fill="none" stroke="#ff4500" stroke-width="0.9" stroke-linejoin="round"/><rect x="286.3" y="185.7" width="1" height="1" fill="#ff4500" opacity="0.7"/>
<path d="M286.4,166.3 L293.6,161.8 L293.6,170.8 Z" fill="none" stroke="#ff4500" stroke-width="0.9" stroke-linejoin="round"/><rect x="290.9" y="165.8" width="1" height="1" fill="#ff4500" opacity="0.7"/>
<path d="M290.9,146.5 L298.1,142.0 L298.1,151.0 Z" fill="none" stroke="#ff4500" stroke-width="0.9" stroke-linejoin="round"/><rect x="295.4" y="146.0" width="1" height="1" fill="#ff4500" opacity="0.7"/>
<path d="M295.0,126.6 L302.2,122.1 L302.2,131.1 Z" fill="none" stroke="#ff4500" stroke-width="0.9" stroke-linejoin="round"/><rect x="299.5" y="126.1" width="1" height="1" fill="#ff4500" opacity="0.7"/>
<path d="M299.6,106.8 L306.8,102.3 L306.8,111.3 Z" fill="none" stroke="#ff4500" stroke-width="0.9" stroke-linejoin="round"/><rect x="304.1" y="106.3" width="1" height="1" fill="#ff4500" opacity="0.7"/>
<path d="M304.2,86.9 L311.4,82.4 L311.4,91.4 Z" fill="none" stroke="#ff4500" stroke-width="0.9" stroke-linejoin="round"/><rect x="308.7" y="86.4" width="1" height="1" fill="#ff4500" opacity="0.7"/>
<path d="M308.3,67.1 L315.6,62.6 L315.6,71.6 Z" fill="none" stroke="#ff4500" stroke-width="0.9" stroke-linejoin="round"/><rect x="312.8" y="66.6" width="1" height="1" fill="#ff4500" opacity="0.7"/>
<path d="M312.6,47.2 L319.8,42.7 L319.8,51.7 Z" fill="none" stroke="#ff4500" stroke-width="0.9" stroke-linejoin="round"/><rect x="317.1" y="46.7" width="1" height="1" fill="#ff4500" opacity="0.7"/>
<circle cx="246.3" cy="821.6" r="4.45" fill="#000"/>
<circle cx="295.6" cy="801.8" r="4.45" fill="#000"/>
<circle cx="298.3" cy="781.9" r="4.45" fill="#000"/>
<circle cx="293.5" cy="762.1" r="4.45" fill="#000"/>
<circle cx="289.0" cy="742.2" r="4.45" fill="#000"/>
<circle cx="285.5" cy="722.4" r="4.45" fill="#000"/>
<circle cx="282.8" cy="702.5" r="4.45" fill="#000"/>
<circle cx="281.2" cy="682.6" r="4.45" fill="#000"/>
<circle cx="280.3" cy="662.8" r="4.45" fill="#000"/>
<circle cx="280.3" cy="642.9" r="4.45" fill="#000"/>
<circle cx="280.6" cy="623.1" r="4.45" fill="#000"/>
<circle cx="281.4" cy="603.2" r="4.45" fill="#000"/>
<circle cx="282.7" cy="583.4" r="4.45" fill="#000"/>
<circle cx="284.6" cy="563.5" r="4.45" fill="#000"/>
<circle cx="286.6" cy="543.6" r="4.45" fill="#000"/>
<circle cx="288.9" cy="523.8" r="4.45" fill="#000"/>
<circle cx="291.7" cy="503.9" r="4.45" fill="#000"/>
<circle cx="294.6" cy="484.1" r="4.45" fill="#000"/>
<circle cx="297.6" cy="464.2" r="4.45" fill="#000"/>
<circle cx="300.6" cy="444.4" r="4.45" fill="#000"/>
<circle cx="303.3" cy="424.5" r="4.45" fill="#000"/>
<circle cx="306.3" cy="404.6" r="4.45" fill="#000"/>
<circle cx="309.7" cy="384.8" r="4.45" fill="#000"/>
<circle cx="313.1" cy="364.9" r="4.45" fill="#000"/>
<circle cx="316.6" cy="345.1" r="4.45" fill="#000"/>
<circle cx="320.0" cy="325.2" r="4.45" fill="#000"/>
<circle cx="323.7" cy="305.3" r="4.45" fill="#000"/>
<circle cx="327.1" cy="285.5" r="4.45" fill="#000"/>
<circle cx="330.7" cy="265.6" r="4.45" fill="#000"/>
<circle cx="334.4" cy="245.8" r="4.45" fill="#000"/>
<circle cx="337.6" cy="225.9" r="4.45" fill="#000"/>
<circle cx="341.3" cy="206.1" r="4.45" fill="#000"/>
<circle cx="344.9" cy="186.2" r="4.45" fill="#000"/>
<circle cx="348.6" cy="166.3" r="4.45" fill="#000"/>
<circle cx="352.2" cy="146.5" r="4.45" fill="#000"/>
<circle cx="355.7" cy="126.6" r="4.45" fill="#000"/>
<circle cx="359.1" cy="106.8" r="4.45" fill="#000"/>
<circle cx="362.7" cy="86.9" r="4.45" fill="#000"/>
<circle cx="366.6" cy="67.1" r="4.45" fill="#000"/>
<circle cx="369.6" cy="47.2" r="4.45" fill="#000"/>
<rect x="83.3" y="47.2" width="505.6" height="794.3" fill="none" stroke="#000" stroke-width="1.5" stroke-linejoin="round"/>
<text transform="translate(626.8,838.0) rotate(-90) scale(0.95,1)" font-size="29.0" text-anchor="middle" >0</text>
<text transform="translate(626.8,679.1) rotate(-90) scale(0.95,1)" font-size="29.0" text-anchor="middle" >2</text>
<text transform="translate(626.8,520.3) rotate(-90) scale(0.95,1)" font-size="29.0" text-anchor="middle" >4</text>
<text transform="translate(626.8,361.4) rotate(-90) scale(0.95,1)" font-size="29.0" text-anchor="middle" >6</text>
<text transform="translate(626.8,202.6) rotate(-90) scale(0.95,1)" font-size="29.0" text-anchor="middle" >8</text>
<text transform="translate(626.8,43.7) rotate(-90) scale(0.95,1)" font-size="29.0" text-anchor="middle" >10</text>
<text transform="translate(93.3,858.9) rotate(-90) scale(0.95,1)" font-size="29.0" text-anchor="end" >1</text>
<text transform="translate(346.1,858.9) rotate(-90) scale(0.95,1)" font-size="29.0" text-anchor="end" >0.1</text>
<text transform="translate(598.9,858.9) rotate(-90) scale(0.95,1)" font-size="29.0" text-anchor="end" >0.01</text>
<text transform="translate(667.8,499.0) rotate(-90) scale(0.95,1)" font-size="29.0" text-anchor="start" >M  (GeV)</text>
<text transform="translate(51.4,604.5) rotate(-90) scale(0.9586,1)" font-size="29.0" text-anchor="start" >RHIC  -  K <tspan dy="3.4">=</tspan><tspan dy="-3.4"> 3 GeV , Y </tspan><tspan dy="3.4">=</tspan><tspan dy="-3.4"> -2</tspan></text>
<text transform="translate(348.3,965.2) rotate(180) scale(0.95,1)" font-size="29.0">A<tspan font-size="17.5" dy="8.2">i</tspan></text>
<path d="M721.6,474.4 V550" stroke="#000" stroke-width="3.0"/>
<path d="M765.2,474.4 V550" stroke="#ff0000" stroke-width="1.5"/>
<path d="M809.0,474.4 V550" stroke="#ff4500" stroke-width="1.55" stroke-dasharray="2.8,2.4"/>
<path d="M853.0,474.4 V550" stroke="#000" stroke-width="1.55" stroke-dasharray="3,3.7"/>
<rect x="717.3" y="41.7" width="8.6" height="8.6" fill="none" stroke="#ff00ff" stroke-width="0.9" stroke-linejoin="round"/><rect x="721.1" y="45.5" width="1" height="1" fill="#ff00ff" opacity="0.8"/>
<path d="M770.5,46.0 L763.2,41.5 L763.2,50.5 Z" fill="none" stroke="#ff0000" stroke-width="0.9" stroke-linejoin="round"/><rect x="765.0" y="45.5" width="1" height="1" fill="#ff0000" opacity="0.7"/>
<path d="M804.5,46.0 L811.8,41.5 L811.8,50.5 Z" fill="none" stroke="#ff4500" stroke-width="0.9" stroke-linejoin="round"/><rect x="809.0" y="45.5" width="1" height="1" fill="#ff4500" opacity="0.7"/>
<circle cx="853.0" cy="46.0" r="4.45" fill="#000"/>
<text transform="translate(729.1,567.5) rotate(-90) scale(0.95,1)" font-size="20.0" text-anchor="end">A<tspan font-size="13.0" dy="5.8">0</tspan></text>
<text transform="translate(772.7,567.5) rotate(-90) scale(0.95,1)" font-size="20.0" text-anchor="end">A<tspan font-size="13.0" dy="5.8">1</tspan></text>
<text transform="translate(816.5,567.5) rotate(-90) scale(0.95,1)" font-size="20.0" text-anchor="end">A<tspan font-size="13.0" dy="5.8">2</tspan></text>
<text transform="translate(860.0,572.5) rotate(-90) scale(0.95,1)" font-size="20.0" text-anchor="end">A<tspan font-size="13.0" dy="5.8">2</tspan><tspan dy="-5.8">-A</tspan><tspan font-size="13.0" dy="5.8">0</tspan></text><path d="M839.1,569.5 H866.8 M839.1,625.1 H866.8" stroke="#000" stroke-width="2.2"/>
<text transform="translate(729.1,100.0) rotate(-90) scale(0.95,1)" font-size="20.0" text-anchor="end">A<tspan font-size="13.0" dy="5.8">0</tspan></text>
<text transform="translate(772.7,100.0) rotate(-90) scale(0.95,1)" font-size="20.0" text-anchor="end">A<tspan font-size="13.0" dy="5.8">1</tspan></text>
<text transform="translate(816.5,100.0) rotate(-90) scale(0.95,1)" font-size="20.0" text-anchor="end">A<tspan font-size="13.0" dy="5.8">2</tspan></text>
<text transform="translate(860.0,105.0) rotate(-90) scale(0.95,1)" font-size="20.0" text-anchor="end">A<tspan font-size="13.0" dy="5.8">2</tspan><tspan dy="-5.8">-A</tspan><tspan font-size="13.0" dy="5.8">0</tspan></text><path d="M839.1,102.0 H866.8 M839.1,157.6 H866.8" stroke="#000" stroke-width="2.2"/>
</svg></body></html>
